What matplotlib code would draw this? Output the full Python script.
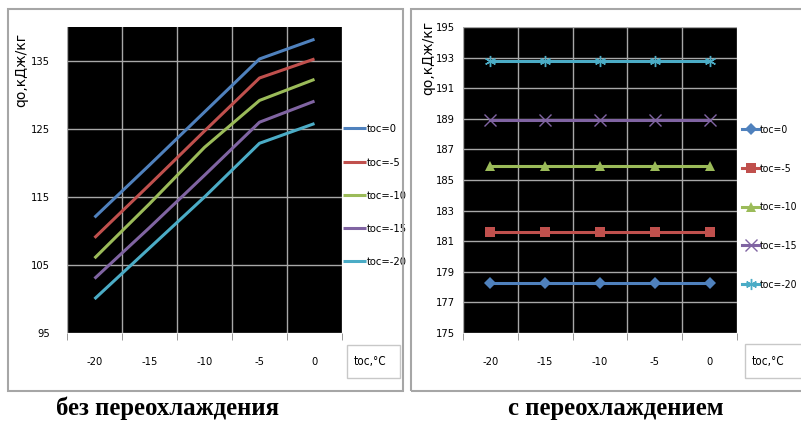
import matplotlib
matplotlib.use("Agg")
import matplotlib.pyplot as plt
from matplotlib.patches import Rectangle
from matplotlib.font_manager import FontProperties

# x categories (toc, °C)
x_labels = ["-20", "-15", "-10", "-5", "0"]
series_names = ["toc=0", "toc=-5", "toc=-10", "toc=-15", "toc=-20"]
colors = ["#4F81BD", "#C0504D", "#9BBB59", "#8064A2", "#4BACC6"]

# без переохлаждения
q_no_sub = {
    "toc=0":   [112.0, 119.7, 127.5, 135.3, 138.2],
    "toc=-5":  [109.0, 116.8, 124.7, 132.5, 135.3],
    "toc=-10": [106.0, 114.0, 122.3, 129.2, 132.3],
    "toc=-15": [103.0, 110.5, 118.2, 126.0, 129.1],
    "toc=-20": [100.0, 107.5, 115.0, 122.9, 125.8],
}

# с переохлаждением
q_sub = {
    "toc=0":   [178.3, 178.3, 178.3, 178.3, 178.3],
    "toc=-5":  [181.6, 181.6, 181.6, 181.6, 181.6],
    "toc=-10": [185.9, 185.9, 185.9, 185.9, 185.9],
    "toc=-15": [188.9, 188.9, 188.9, 188.9, 188.9],
    "toc=-20": [192.8, 192.8, 192.8, 192.8, 192.8],
}
markers = ["D", "s", "^", "x", (6, 2, 0)]

W, H = 801, 421
fig = plt.figure(figsize=(W / 100, H / 100), dpi=100)
fig.patch.set_facecolor("white")

grid_col = "#A8A8A8"


def fp(size, stretch="condensed"):
    return FontProperties(family="DejaVu Sans", stretch=stretch, size=size)


def px_rect(x0, y0, x1, y1):
    # pixel box (top-left origin) -> figure fraction
    return [x0 / W, 1 - y1 / H, (x1 - x0) / W, (y1 - y0) / H]


def frame(x0, y0, x1, y1, col="#A6A6A6", lw=1.5):
    fig.patches.append(Rectangle((x0 / W, 1 - y1 / H), (x1 - x0) / W, (y1 - y0) / H,
                                 transform=fig.transFigure, fill=False,
                                 edgecolor=col, lw=lw, zorder=0))


def setup_axes(ax, ylim, yticks, ypad):
    ax.set_facecolor("black")
    n = len(x_labels)
    ax.set_xlim(-0.5, n - 0.5)
    ax.set_ylim(*ylim)
    ax.set_xticks(range(n))
    ax.set_xticklabels(x_labels, fontproperties=fp(8))
    ax.set_xticks([i - 0.5 for i in range(n + 1)], minor=True)
    ax.tick_params(axis="x", which="major", length=0, pad=17)
    ax.tick_params(axis="x", which="minor", length=5, color="#888888", direction="out")
    ax.set_yticks(yticks)
    ax.set_yticklabels([str(v) for v in yticks], fontproperties=fp(8))
    ax.tick_params(axis="y", length=0, pad=ypad)
    ax.grid(True, which="minor", axis="x", color=grid_col, lw=1)
    ax.grid(True, which="major", axis="y", color=grid_col, lw=1)
    ax.set_axisbelow(True)
    for s in ax.spines.values():
        s.set_visible(False)


xs = list(range(len(x_labels)))

# ---- left panel ----
frame(8, 9, 403, 391)
ax1 = fig.add_axes(px_rect(67, 27, 342, 333))
setup_axes(ax1, (95, 140), [95, 105, 115, 125, 135], 12)
for name, c in zip(series_names, colors):
    ax1.plot(xs, q_no_sub[name], color=c, lw=2.2, label=name, solid_capstyle="butt")
ax1.legend(loc="upper left", bbox_to_anchor=(1.005, 0.682), frameon=False,
           prop=fp(8), labelspacing=2.09, handlelength=2.0, handletextpad=0.15,
           borderaxespad=0, borderpad=0)
fig.text(21 / W, 1 - 70 / H, "qo,кДж/кг", rotation=90, ha="center", va="center",
         fontproperties=fp(10, "normal"))
frame(347, 345, 400, 378, col="#C8C8C8", lw=1)
fig.text(354 / W, 1 - 362 / H, "toc,°C", ha="left", va="center", fontproperties=fp(8.5))

# ---- right panel ----
frame(411, 9, 815, 391)
ax2 = fig.add_axes(px_rect(463, 27, 737, 333))
setup_axes(ax2, (175, 195), list(range(175, 196, 2)), 6)
for name, c, m in zip(series_names, colors, markers):
    thin = m in ("x", (6, 2, 0))
    ax2.plot(xs, q_sub[name], color=c, lw=2.2, label=name, marker=m,
             markersize=8 if thin else 6.5, markeredgewidth=1 if thin else 0,
             markerfacecolor=c, markeredgecolor=c)
ax2.legend(loc="upper left", bbox_to_anchor=(1.02, 0.68), frameon=False,
           prop=fp(7.5), labelspacing=2.75, handlelength=1.6, handletextpad=0.1,
           borderaxespad=0, borderpad=0)
fig.text(428 / W, 1 - 58 / H, "qo,кДж/кг", rotation=90, ha="center", va="center",
         fontproperties=fp(10, "normal"))
frame(745, 344, 805, 378, col="#C8C8C8", lw=1)
fig.text(752 / W, 1 - 362 / H, "toc,°C", ha="left", va="center", fontproperties=fp(8.5))

# captions
cap_font = ["Liberation Serif", "DejaVu Serif"]
fig.text(168 / W, 1 - 408 / H, "без переохлаждения", ha="center", va="center",
         fontsize=17.8, fontweight="bold", family=cap_font)
fig.text(616 / W, 1 - 408 / H, "с переохлаждением", ha="center", va="center",
         fontsize=17.8, fontweight="bold", family=cap_font)

fig.savefig("out.png", dpi=100)
